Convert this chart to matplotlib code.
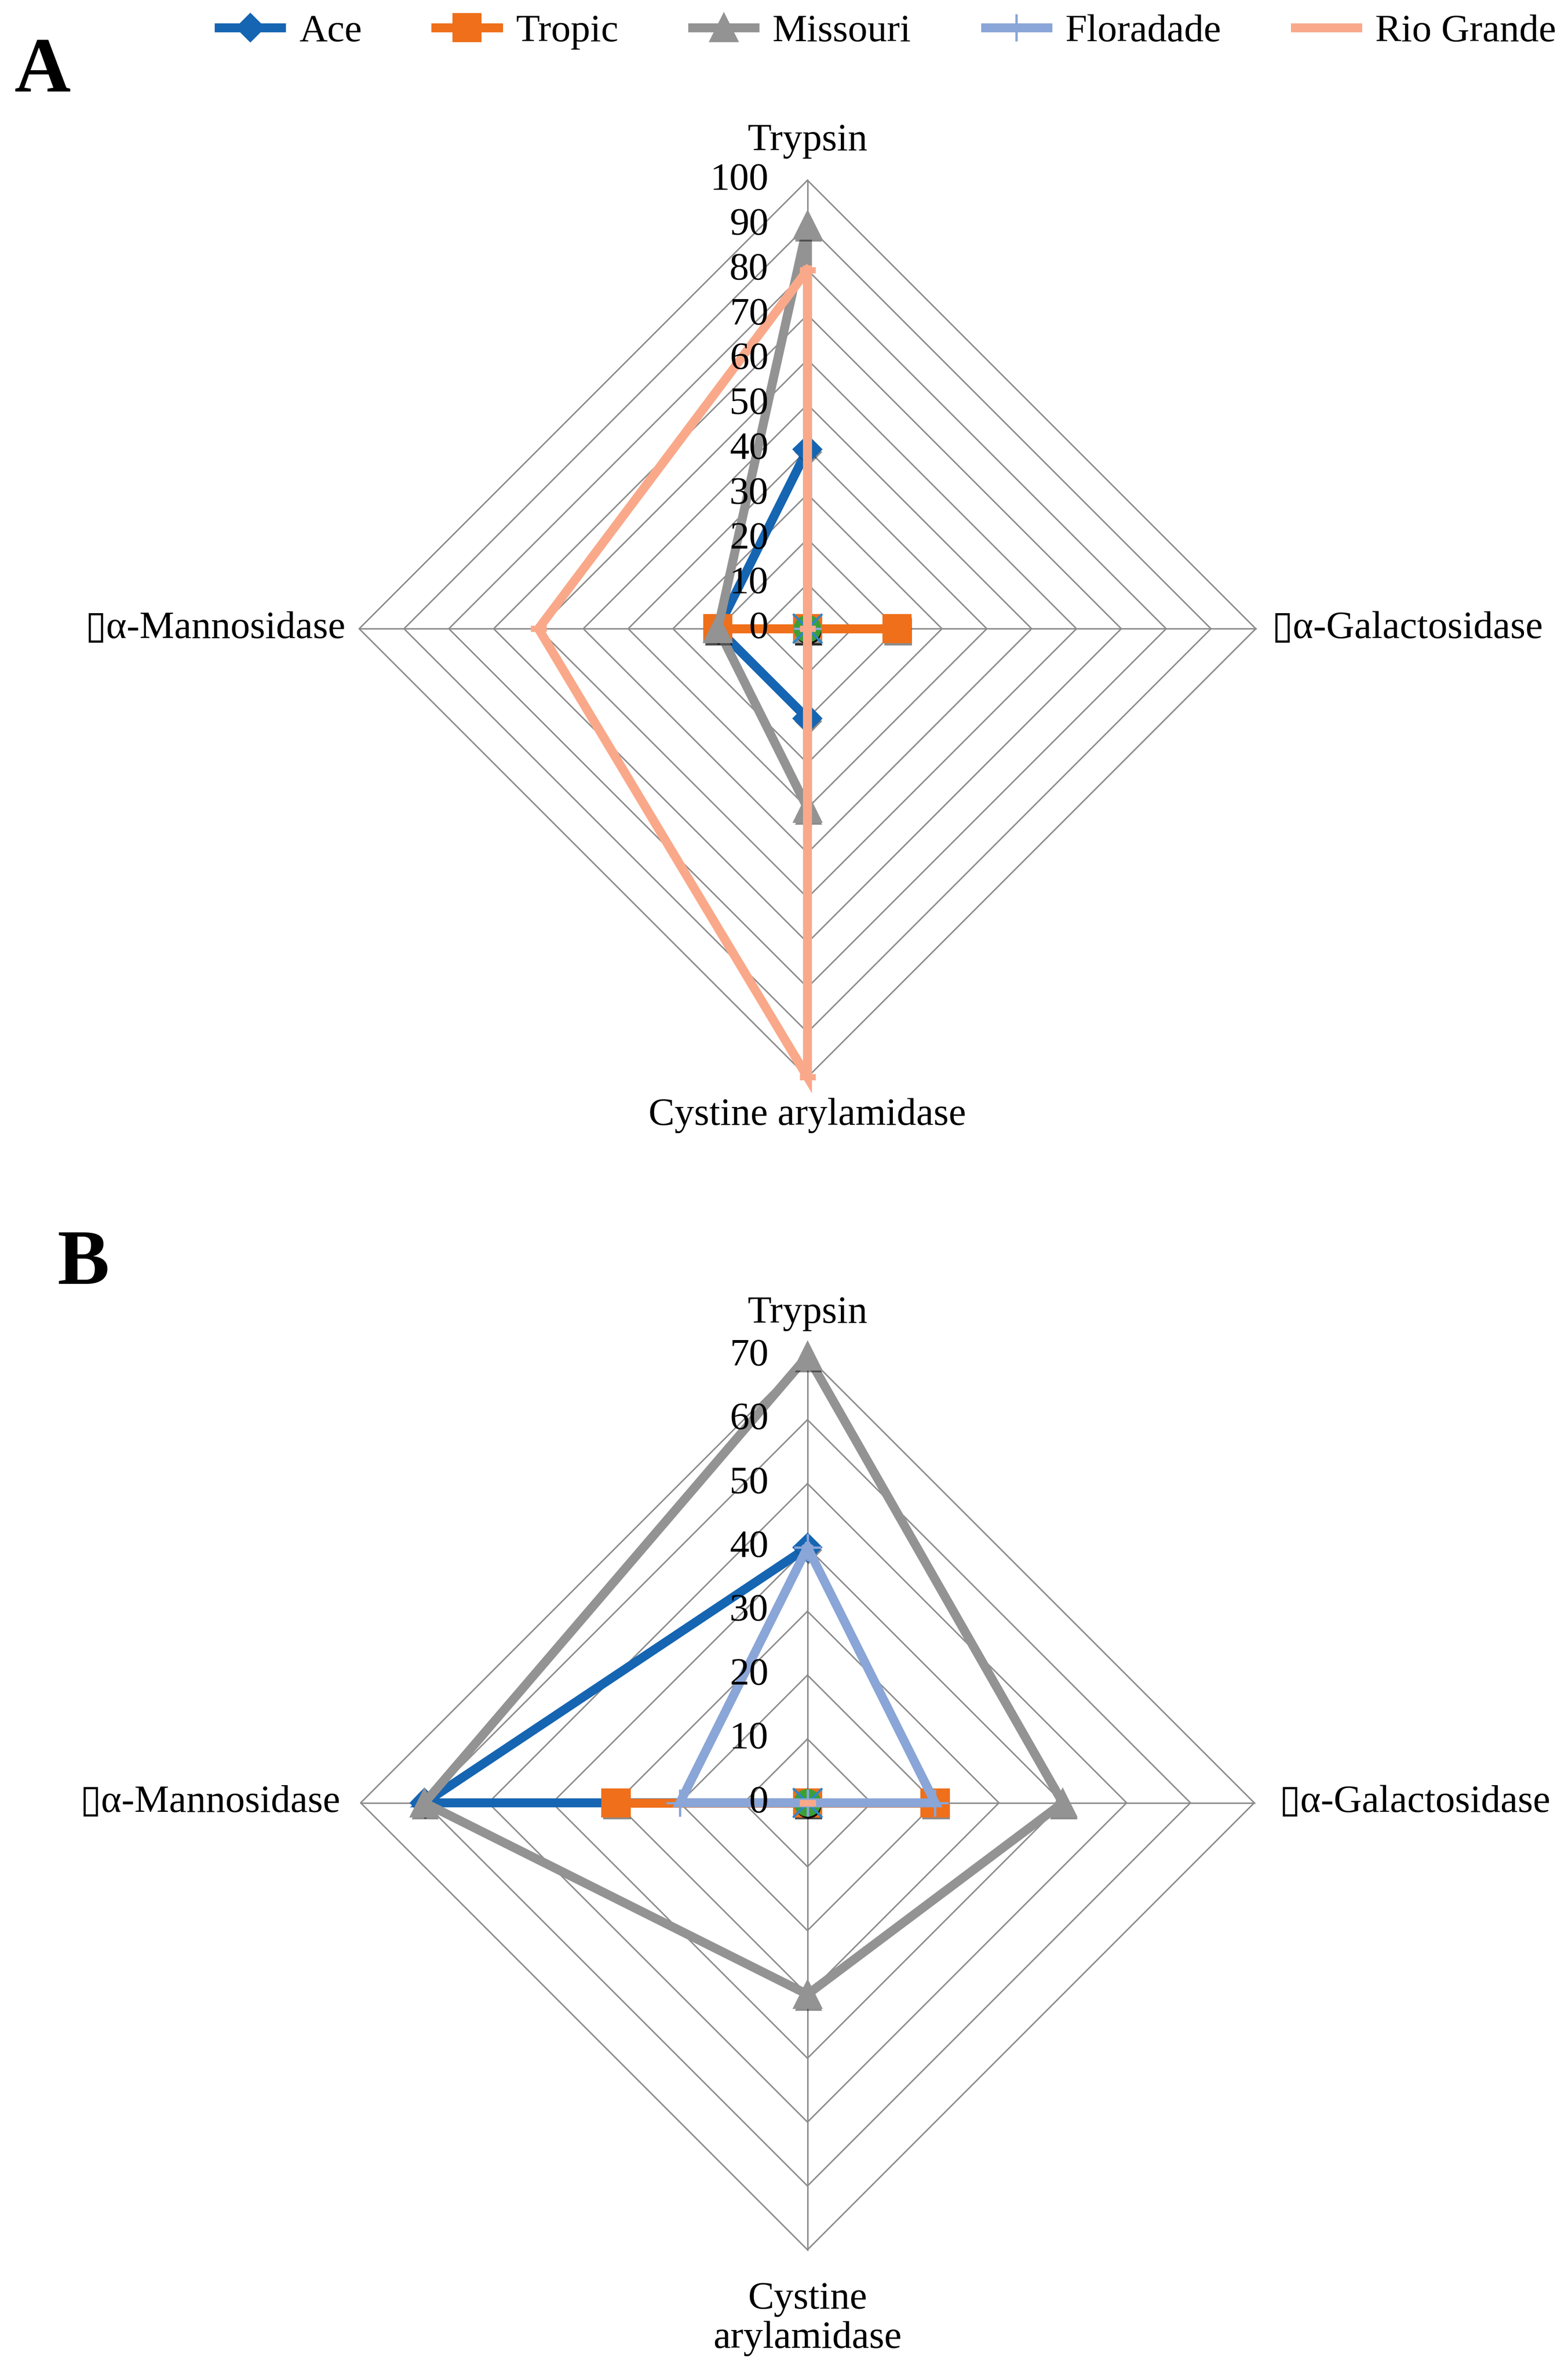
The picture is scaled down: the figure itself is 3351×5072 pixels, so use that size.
import matplotlib
matplotlib.use('Agg')
import matplotlib.pyplot as plt
import matplotlib.patheffects as pe
from matplotlib.lines import Line2D
import numpy as np

plt.rcParams['font.family'] = ['Liberation Serif', 'DejaVu Serif', 'DejaVu Sans']

# === DATA ===
# axis order: Trypsin (top), a-Galactosidase (right), Cystine arylamidase (bottom), a-Mannosidase (left)
enzymes_a = ['Trypsin', '\u25af\u03b1-Galactosidase', 'Cystine arylamidase', '\u25af\u03b1-Mannosidase']
enzymes_b = ['Trypsin', '\u25af\u03b1-Galactosidase', 'Cystine\narylamidase', '\u25af\u03b1-Mannosidase']
cultivars = ['Ace', 'Tropic', 'Missouri', 'Floradade', 'Rio Grande']

ace_a = [40, 0, 20, 20]
tropic_a = [0, 20, 0, 20]
missouri_a = [90, 0, 40, 20]
floradade_a = [0, 0, 0, 0]
riogrande_a = [80, 0, 100, 60]
unlabelled_a = [0, 0, 0, 0]

ace_b = [40, np.nan, 0, 60]   # no a-Galactosidase value
tropic_b = [0, 20, 0, 30]
missouri_b = [70, 40, 30, 60]
floradade_b = [40, 20, 0, 20]
riogrande_b = [0, 0, 0, 0]
unlabelled_b = [0, 0, 0, 0]

ticks_a = [0, 10, 20, 30, 40, 50, 60, 70, 80, 90, 100]
ticks_b = [0, 10, 20, 30, 40, 50, 60, 70]

# === STYLE ===
styles = {
    'Ace':        dict(color='#1565b2', marker='D', ms=10, filled=True),
    'Tropic':     dict(color='#ef6f1a', marker='s', ms=14, filled=True),
    'Missouri':   dict(color='#939393', marker='^', ms=14, filled=True),
    'Floradade':  dict(color='#8aa5d7', marker='+', ms=14, filled=False),
    'Rio Grande': dict(color='#f9a98a', marker='_', ms=8, filled=False),
}
grid_color = '#8c8c8c'
lw_series = 4.6
fs = 20

W, H = 3351, 5072
fig = plt.figure(figsize=(W / 300, H / 300), dpi=300)

angles = np.pi / 2 - np.arange(4) * np.pi / 2


def to_xy(vals):
    v = np.asarray(vals, dtype=float)
    x = v * np.cos(angles)
    y = v * np.sin(angles)
    return np.append(x, x[0]), np.append(y, y[0])


def draw_radar(ax, labels, series, ticks, label_r):
    rmax = ticks[-1]
    # grid rings
    for t in ticks[1:]:
        gx, gy = to_xy([t] * 4)
        ax.plot(gx, gy, color=grid_color, lw=0.75, zorder=1)
    for a in angles:
        ax.plot([0, rmax * np.cos(a)], [0, rmax * np.sin(a)], color=grid_color, lw=0.75, zorder=1)

    shadow = [pe.SimplePatchShadow(offset=(0.5, -1.5), shadow_rgbFace='black', alpha=0.45), pe.Normal()]
    z = 3
    for name, vals in series:
        x, y = to_xy(vals)
        if name is None:
            ax.plot(x[:-1], y[:-1], ls='none', marker='o', ms=13, color='#3b9f37',
                    path_effects=shadow, zorder=z)
            ax.plot(x[:-1], y[:-1], ls='none', marker='x', ms=15, mew=1, color='#2e86c9', zorder=z)
            z += 1
            continue
        st = styles[name]
        ax.plot(x, y, color=st['color'], lw=lw_series, solid_joinstyle='miter', zorder=z)
        if st['filled']:
            ax.plot(x[:-1], y[:-1], ls='none', marker=st['marker'], ms=st['ms'],
                    color=st['color'], mec=st['color'], path_effects=shadow, zorder=z + 0.5)
        else:
            ax.plot(x[:-1], y[:-1], ls='none', marker=st['marker'], ms=st['ms'],
                    mew=1.2 if st['marker'] == '+' else 3.2, color=st['color'], zorder=z + 0.5)
        z += 1

    # value labels
    for t in ticks:
        ax.annotate(str(t), (0, t), xytext=(-20, 0), textcoords='offset points',
                    ha='right', va='center', fontsize=fs, zorder=20)

    # category labels
    ax.text(0, label_r[0] * rmax, labels[0], ha='center', va='center', fontsize=fs)
    ax.text(label_r[1] * rmax, 0, labels[1], ha='left', va='center', fontsize=fs)
    ax.text(0, -label_r[2] * rmax, labels[2], ha='center', va='center', fontsize=fs,
            linespacing=1.15)
    ax.text(-label_r[3] * rmax, 0, labels[3], ha='right', va='center', fontsize=fs)

    ax.set_xlim(-1.2 * rmax, 1.2 * rmax)
    ax.set_ylim(-1.2 * rmax, 1.2 * rmax)
    ax.set_aspect('equal')
    ax.axis('off')


# panel A: center (533, 415) px of 1035x1567 preview, 100 -> 296 px
ref_w, ref_h = 1035.0, 1567.0
size_a = 2.4 * 296
ax_a = fig.add_axes([533 / ref_w - size_a / 2 / ref_w, 1 - 415 / ref_h - size_a / 2 / ref_h,
                     size_a / ref_w, size_a / ref_h])
draw_radar(ax_a, enzymes_a,
           [('Ace', ace_a), ('Tropic', tropic_a), ('Missouri', missouri_a), (None, unlabelled_a),
            ('Floradade', floradade_a), ('Rio Grande', riogrande_a)],
           ticks_a, [1.088, 1.035, 1.085, 1.03])

size_b = 2.4 * 295
ax_b = fig.add_axes([533 / ref_w - size_b / 2 / ref_w, 1 - 1190 / ref_h - size_b / 2 / ref_h,
                     size_b / ref_w, size_b / ref_h])
draw_radar(ax_b, enzymes_b,
           [('Ace', ace_b), ('Tropic', tropic_b), ('Missouri', missouri_b), (None, unlabelled_b),
            ('Floradade', floradade_b), ('Rio Grande', riogrande_b)],
           ticks_b, [1.095, 1.055, 1.155, 1.045])

# panel letters
fig.text(28 / ref_w, 1 - 48 / ref_h, 'A', fontsize=40, fontweight='bold', ha='center', va='center')
fig.text(55 / ref_w, 1 - 835 / ref_h, 'B', fontsize=40, fontweight='bold', ha='center', va='center')

# legend
handles = []
for name in cultivars:
    st = styles[name]
    handles.append(Line2D([0], [0], color=st['color'], lw=lw_series, marker=st['marker'],
                          ms=st['ms'], mew=1.2 if st['marker'] == '+' else (3.2 if st['marker'] == '_' else 1)))
fig.legend(handles, cultivars, loc='center', bbox_to_anchor=(0.566, 1 - 21 / ref_h), ncol=5,
           frameon=False, fontsize=fs, handlelength=1.6, handletextpad=0.45, columnspacing=1.9)

fig.savefig('out.png', dpi=300)
